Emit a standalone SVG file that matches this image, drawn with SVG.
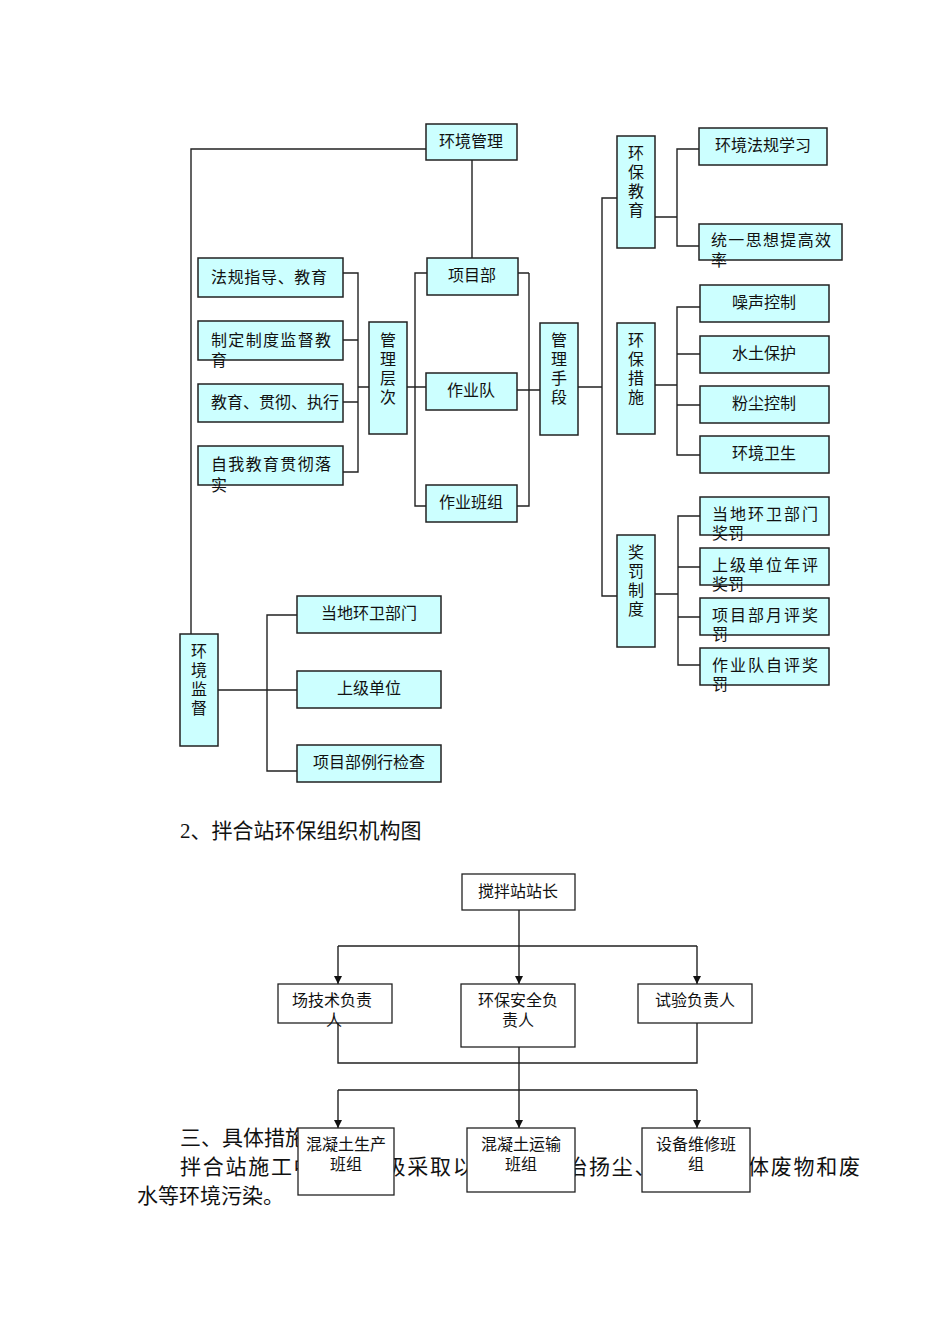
<svg xmlns="http://www.w3.org/2000/svg" width="950" height="1344" viewBox="0 0 950 1344">
<defs>
<style>
.b{fill:#ccffff;stroke:#222;stroke-width:1.5}
.w{fill:#fff;stroke:#222;stroke-width:1.3}
.t{font-family:"Liberation Serif","Noto Sans CJK SC",serif;font-size:16px;fill:#111}
.c{text-anchor:middle}
.L{fill:none;stroke:#222;stroke-width:1.4}
.big{font-family:"Liberation Serif","Noto Sans CJK SC",serif;font-size:21px;fill:#111}
</style>
<marker id="a" viewBox="0 0 10 10" refX="10" refY="5" markerWidth="8" markerHeight="10" orient="auto" markerUnits="userSpaceOnUse"><path d="M0,0L10,5L0,10z" fill="#111"/></marker>
</defs>
<rect width="950" height="1344" fill="#fff"/>
<g id="connectors">
<path class="L" d="M426,149H191V634M472,160V258"/>
<path class="L" d="M343,273H358V472H343M343,340H358M343,402H358M358,387H369"/>
<path class="L" d="M407,387H426M427,273H415V506H426M517,390H540M529,273H529V506H517M529,273H517"/>
<path class="L" d="M578,387H602M617,198H602V596H617"/>
<path class="L" d="M655,217H677M699,149H677V246H699"/>
<path class="L" d="M655,385H677M700,307H677V455H700M677,354H700M677,405H700"/>
<path class="L" d="M655,594H678M700,516H678V665H700M678,567H700M678,617H700"/>
<path class="L" d="M218,690H297M297,615H267V771H297"/>
<path class="L" d="M519,910V946M338,946H697"/>
<path class="L" d="M338,946V984" marker-end="url(#a)"/>
<path class="L" d="M519,946V984" marker-end="url(#a)"/>
<path class="L" d="M697,946V984" marker-end="url(#a)"/>
<path class="L" d="M338,1023V1063H697V1023M338,1090H697"/>
<path class="L" d="M338,1090V1128" marker-end="url(#a)"/>
<path class="L" d="M519,1047V1128" marker-end="url(#a)"/>
<path class="L" d="M697,1090V1128" marker-end="url(#a)"/>
</g>
<g id="n1"><rect class="b" x="426" y="124" width="91" height="36"/><text class="t c" x="471" y="147">环境管理</text></g>
<g id="n2"><rect class="b" x="198" y="258" width="145" height="39"/><text class="t" x="211" y="283" textLength="116">法规指导、教育</text></g>
<g id="n3"><rect class="b" x="198" y="321" width="145" height="39"/><text class="t" x="211" y="346" textLength="120">制定制度监督教</text><text class="t" x="211" y="366">育</text></g>
<g id="n4"><rect class="b" x="198" y="384" width="145" height="38"/><text class="t" x="211" y="408">教育、贯彻、执行</text></g>
<g id="n5"><rect class="b" x="198" y="446" width="145" height="39"/><text class="t" x="211" y="470" textLength="120">自我教育贯彻落</text><text class="t" x="211" y="491">实</text></g>
<g id="n6"><rect class="b" x="369" y="322" width="38" height="112"/><text class="t c" x="388" y="346">管</text><text class="t c" x="388" y="365">理</text><text class="t c" x="388" y="384">层</text><text class="t c" x="388" y="403">次</text></g>
<g id="n7"><rect class="b" x="427" y="258" width="91" height="37"/><text class="t c" x="472" y="281">项目部</text></g>
<g id="n8"><rect class="b" x="426" y="373" width="91" height="37"/><text class="t c" x="471" y="396">作业队</text></g>
<g id="n9"><rect class="b" x="426" y="485" width="91" height="37"/><text class="t c" x="471" y="508">作业班组</text></g>
<g id="n10"><rect class="b" x="540" y="323" width="38" height="112"/><text class="t c" x="559" y="346">管</text><text class="t c" x="559" y="365">理</text><text class="t c" x="559" y="384">手</text><text class="t c" x="559" y="403">段</text></g>
<g id="n11"><rect class="b" x="617" y="136" width="38" height="112"/><text class="t c" x="636" y="159">环</text><text class="t c" x="636" y="178">保</text><text class="t c" x="636" y="197">教</text><text class="t c" x="636" y="216">育</text></g>
<g id="n12"><rect class="b" x="617" y="323" width="38" height="111"/><text class="t c" x="636" y="346">环</text><text class="t c" x="636" y="365">保</text><text class="t c" x="636" y="384">措</text><text class="t c" x="636" y="403">施</text></g>
<g id="n13"><rect class="b" x="617" y="535" width="38" height="112"/><text class="t c" x="636" y="558">奖</text><text class="t c" x="636" y="577">罚</text><text class="t c" x="636" y="596">制</text><text class="t c" x="636" y="615">度</text></g>
<g id="n14"><rect class="b" x="699" y="128" width="128" height="37"/><text class="t c" x="763" y="151">环境法规学习</text></g>
<g id="n15"><rect class="b" x="699" y="224" width="143" height="36"/><text class="t" x="711" y="246" textLength="120">统一思想提高效</text><text class="t" x="711" y="266">率</text></g>
<g id="n16"><rect class="b" x="700" y="285" width="129" height="37"/><text class="t c" x="764" y="308">噪声控制</text></g>
<g id="n17"><rect class="b" x="700" y="336" width="129" height="37"/><text class="t c" x="764" y="359">水土保护</text></g>
<g id="n18"><rect class="b" x="700" y="386" width="129" height="37"/><text class="t c" x="764" y="409">粉尘控制</text></g>
<g id="n19"><rect class="b" x="700" y="436" width="129" height="37"/><text class="t c" x="764" y="459">环境卫生</text></g>
<g id="n20"><rect class="b" x="700" y="497" width="129" height="38"/><text class="t" x="712" y="520" textLength="106">当地环卫部门</text><text class="t" x="712" y="539">奖罚</text></g>
<g id="n21"><rect class="b" x="700" y="548" width="129" height="37"/><text class="t" x="712" y="571" textLength="106">上级单位年评</text><text class="t" x="712" y="590">奖罚</text></g>
<g id="n22"><rect class="b" x="700" y="598" width="129" height="37"/><text class="t" x="712" y="621" textLength="106">项目部月评奖</text><text class="t" x="712" y="640">罚</text></g>
<g id="n23"><rect class="b" x="700" y="648" width="129" height="37"/><text class="t" x="712" y="671" textLength="106">作业队自评奖</text><text class="t" x="712" y="690">罚</text></g>
<g id="n24"><rect class="b" x="180" y="634" width="38" height="112"/><text class="t c" x="199" y="657">环</text><text class="t c" x="199" y="676">境</text><text class="t c" x="199" y="695">监</text><text class="t c" x="199" y="714">督</text></g>
<g id="n25"><rect class="b" x="297" y="596" width="144" height="37"/><text class="t c" x="369" y="619">当地环卫部门</text></g>
<g id="n26"><rect class="b" x="297" y="671" width="144" height="37"/><text class="t c" x="369" y="694">上级单位</text></g>
<g id="n27"><rect class="b" x="297" y="745" width="144" height="37"/><text class="t c" x="369" y="768">项目部例行检查</text></g>
<text class="big" x="180" y="838">2、拌合站环保组织机构图</text>
<text class="big" x="180" y="1145">三、具体措施</text>
<text class="big" x="180" y="1174" textLength="680">拌合站施工中应当积极采取以下措施防治扬尘、噪声、固体废物和废</text>
<text class="big" x="137" y="1203">水等环境污染。</text>
<g id="m1"><rect class="w" x="462" y="874" width="113" height="36"/><text class="t c" x="518" y="897">搅拌站站长</text></g>
<g id="m2"><rect class="w" x="278" y="984" width="114" height="39"/><text class="t" x="292" y="1006">场技术负责</text><text class="t" x="326" y="1026">人</text></g>
<g id="m3"><rect class="w" x="461" y="984" width="114" height="63"/><text class="t c" x="518" y="1006">环保安全负</text><text class="t c" x="518" y="1026">责人</text></g>
<g id="m4"><rect class="w" x="638" y="984" width="114" height="39"/><text class="t c" x="695" y="1006">试验负责人</text></g>
<g id="m5"><rect class="w" x="298" y="1128" width="96" height="67"/><text class="t c" x="346" y="1150">混凝土生产</text><text class="t c" x="346" y="1170">班组</text></g>
<g id="m6"><rect class="w" x="467" y="1128" width="108" height="64"/><text class="t c" x="521" y="1150">混凝土运输</text><text class="t c" x="521" y="1170">班组</text></g>
<g id="m7"><rect class="w" x="642" y="1128" width="108" height="64"/><text class="t c" x="696" y="1150">设备维修班</text><text class="t c" x="696" y="1170">组</text></g>
</svg>
